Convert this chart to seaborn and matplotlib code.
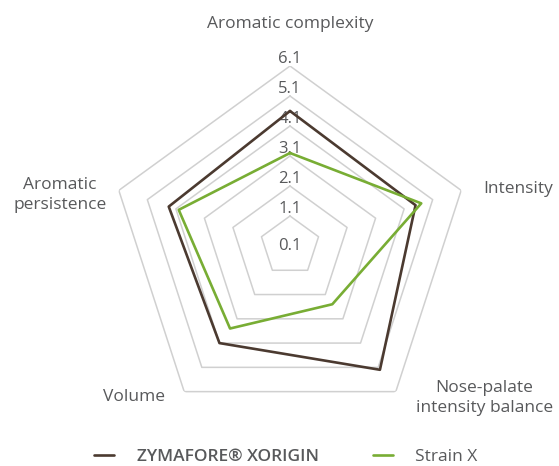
import numpy as np
import pandas as pd
import matplotlib
matplotlib.use("Agg")
import matplotlib.pyplot as plt
import seaborn as sns

# data
attributes = ["Aromatic complexity", "Intensity", "Nose-palate\nintensity balance",
              "Volume", "Aromatic\npersistence"]
zymafore = [4.6, 4.5, 5.2, 4.1, 4.35]
strain_x = [3.2, 4.7, 2.5, 3.5, 4.0]
ring_levels = [1.1, 2.1, 3.1, 4.1, 5.1, 6.1]
tick_labels = ["0.1", "1.1", "2.1", "3.1", "4.1", "5.1", "6.1"]

series_names = ["ZYMAFORE® XORIGIN", "Strain X"]
colors = ["#4b3a30", "#78ad34"]
text_col = "#58595b"

sns.set_theme(style="white")
plt.rcParams["font.family"] = ["Open Sans", "DejaVu Sans"]

n = len(attributes)
angles = np.linspace(0, 2 * np.pi, n, endpoint=False)
closed = np.append(angles, 2 * np.pi)

rows = []
for name, vals in zip(series_names, [zymafore, strain_x]):
    for i in range(n + 1):
        rows.append({"series": name, "angle": closed[i], "value": vals[i % n]})
df = pd.DataFrame(rows)

fig = plt.figure(figsize=(5.59, 4.66), dpi=100)
ax = fig.add_axes([110 / 559, 40 / 466, 360 / 559, 360 / 466], polar=True)
ax.set_theta_zero_location("N")
ax.set_theta_direction(-1)
ax.set_ylim(0.1, 6.1)
ax.grid(False)
ax.spines["polar"].set_visible(False)
ax.set_yticks([])
ax.set_xticks([])
ax.patch.set_alpha(0)

# pentagon rings
for lv in ring_levels:
    ax.plot(closed, [lv] * (n + 1), color="#d0d0d0", lw=1.1, zorder=1)

for name, col in zip(series_names, colors):
    sub = df[df["series"] == name]
    sns.lineplot(data=sub, x="angle", y="value", sort=False, estimator=None,
                 color=col, lw=1.9, ax=ax, label=name, legend=False, zorder=3)
ax.set_xlabel("")
ax.set_ylabel("")

# radial tick labels
for i, t in enumerate(tick_labels):
    r = 0.1 + i
    ax.text(0, r + 0.22 if i > 0 else r, t, ha="center", va="center",
            fontsize=12, color=text_col, zorder=2)

# category labels (angle in degrees clockwise from top, radius in data units)
label_deg = [0, 76, 128, 226, 282.5]
label_r = [7.5, 7.93, 8.32, 7.33, 7.95]
for deg, lab, r in zip(label_deg, attributes, label_r):
    ax.text(np.deg2rad(deg), r, lab, ha="center", va="center", fontsize=12.5,
            color=text_col, linespacing=1.3)

handles, labels = ax.get_legend_handles_labels()
leg = fig.legend(handles, labels, loc="center", bbox_to_anchor=(286 / 559, 9 / 466),
                 ncol=2, frameon=False, fontsize=12.5, handlelength=1.15,
                 columnspacing=3.1, handletextpad=1.3)
for i, t in enumerate(leg.get_texts()):
    t.set_color(text_col)
    if i == 0:
        t.set_fontweight("semibold")

fig.savefig("out.png", dpi=100)
